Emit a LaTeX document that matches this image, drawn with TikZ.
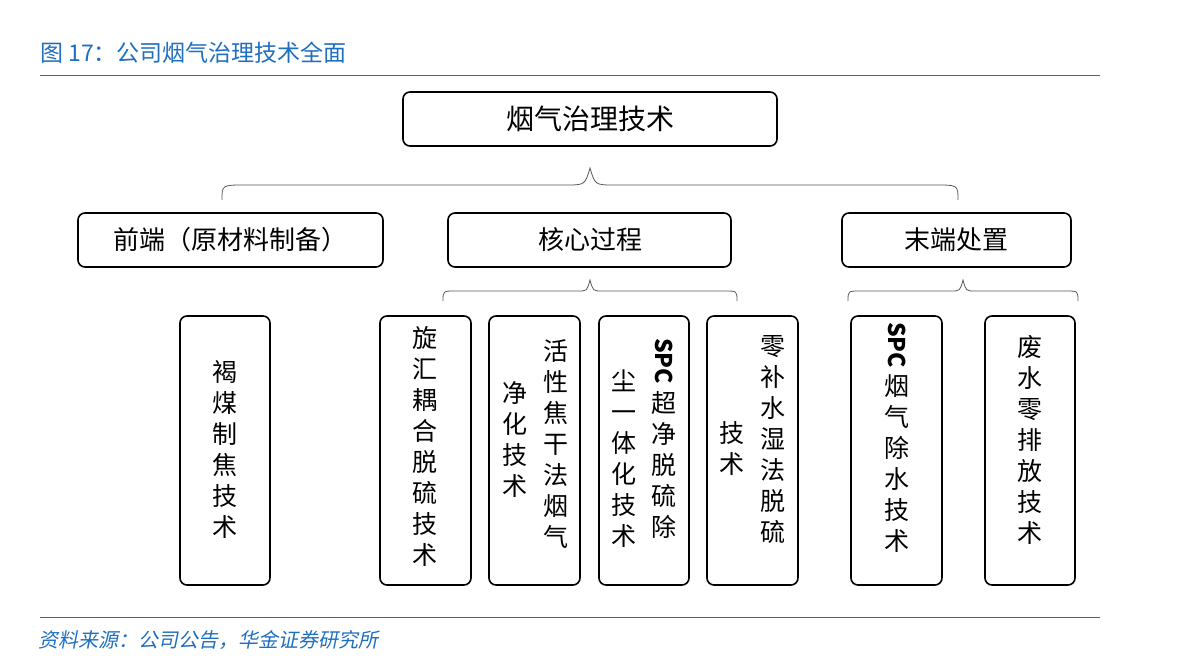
\documentclass[tikz,border=0pt]{standalone}
\usepackage{fontspec}
\setmainfont{Noto Sans CJK SC}
\newfontfamily\cjk{Noto Sans CJK SC}
\definecolor{hblue}{HTML}{1F6FC0}
\newcommand{\spc}{\rotatebox[origin=c]{-90}{\fontsize{23}{23}\selectfont\bfseries SPC}}
\begin{document}
\begin{tikzpicture}[x=1pt,y=-1pt,
  bx/.style={draw,line width=1.6pt,rounded corners=7pt},
  brc/.style={draw,line width=0.8pt,gray!70!black},
  vcol/.style={anchor=north,inner sep=0pt,align=center,font=\fontsize{25}{31}\selectfont}]
\useasboundingbox (0,0) rectangle (1200,662);
\node[anchor=west,text=hblue,font=\fontsize{23}{23}\selectfont,inner sep=0] (title) at (40,53) {图 17：公司烟气治理技术全面};
\draw[hblue,line width=1pt] (40,75) coordinate (l1) -- (1100,75) coordinate (l2);
\draw[hblue,line width=1pt] (40,617) coordinate (l3) -- (1100,617) coordinate (l4);
\node[anchor=west,text=hblue,font=\fontsize{20}{20}\selectfont\itshape,inner sep=0,xslant=0.2] (src) at (40,640) {资料来源：公司公告，华金证券研究所};

\draw[bx] (403,92) rectangle (777,146); \node[font=\fontsize{28}{28}\selectfont] (top) at (590,119) {烟气治理技术};
\draw[brc] (222,200) .. controls (222,185) .. (245,185) -- (565,185) .. controls (585,185) .. (590,168) .. controls (595,185) .. (615,185) -- (935,185) .. controls (958,185) .. (958,200);
\draw[bx] (78,213) rectangle (383,267); \node[font=\fontsize{26}{26}\selectfont] (a) at (230,240) {前端（原材料制备）};
\draw[bx] (448,213) rectangle (731,267); \node[font=\fontsize{26}{26}\selectfont] (b) at (590,240) {核心过程};
\draw[bx] (842,213) rectangle (1071,267); \node[font=\fontsize{26}{26}\selectfont] (c) at (956,240) {末端处置};
\draw[brc] (443,301) .. controls (443,291) .. (455,291) -- (578,291) .. controls (587,291) .. (590,280) .. controls (593,291) .. (602,291) -- (725,291) .. controls (737,291) .. (737,301);
\draw[brc] (848,301) .. controls (848,291) .. (860,291) -- (951,291) .. controls (960,291) .. (963,280) .. controls (966,291) .. (975,291) -- (1066,291) .. controls (1078,291) .. (1078,301);

\foreach \x/\y in {180/270,380/471,489/580,599/689,707/798,851/942,985/1075}
  \draw[bx] (\x,316) rectangle (\y,585);
\node[vcol] (t1) at (225,360) {褐\\煤\\制\\焦\\技\\术};
\node[vcol] (t2) at (425,326) {旋\\汇\\耦\\合\\脱\\硫\\技\\术};
\node[vcol] (t3a) at (556,339) {活\\性\\焦\\干\\法\\烟\\气};
\node[vcol] (t3b) at (515,381) {净\\化\\技\\术};
\node[vcol] (t4a) at (664,338) {\spc\\[6pt]超\\净\\脱\\硫\\除};
\node[vcol] (t4b) at (624,370) {尘\\一\\体\\化\\技\\术};
\node[vcol] (t5a) at (773,335) {零\\补\\水\\湿\\法\\脱\\硫};
\node[vcol] (t5b) at (732,421) {技\\术};
\node[vcol] (t6) at (897,322) {\spc\\[6pt]烟\\气\\除\\水\\技\\术};
\node[vcol] (t7) at (1030,335) {废\\水\\零\\排\\放\\技\\术};
\end{tikzpicture}
\end{document}
